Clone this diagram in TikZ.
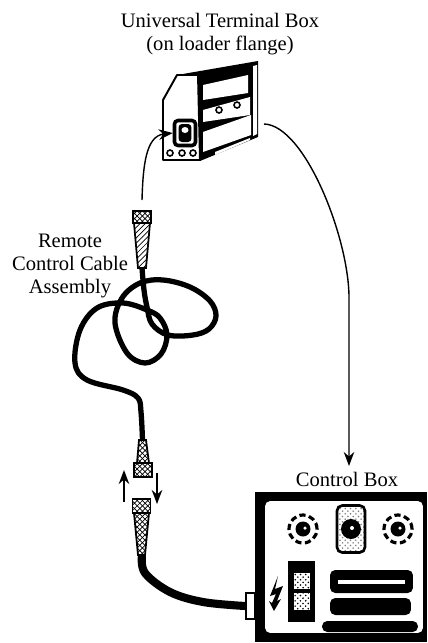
\documentclass[tikz,border=0pt]{standalone}
\usepackage{fontspec}
\setmainfont{Liberation Serif}
\usetikzlibrary{arrows.meta,patterns,shapes.geometric}
\begin{document}
\begin{tikzpicture}[
  x=0.02cm, y=-0.02cm,
  lbl/.style={font=\fontsize{11.7}{13}\selectfont, align=center, inner sep=0pt},
  tr/.style={-{Stealth[length=8pt,width=6pt]}, line width=0.8pt},
  cablethin/.style={line width=3pt, line join=round},
  cablethick/.style={line width=4.6pt, line join=round},
  collar/.style={rectangle, draw=black, line width=1pt, inner sep=0pt, pattern=crosshatch, minimum width=0.36cm, minimum height=0.26cm},
  taper/.style={draw=black, line width=1pt, pattern=crosshatch},
  socket/.style={rectangle, rounded corners=2pt, draw=black, line width=2pt, fill=white, inner sep=0pt},
  hole/.style={circle, draw=black, line width=0.9pt, fill=white, inner sep=0pt, minimum size=0.12cm},
  panel/.style={fill=white},
  bar/.style={rectangle, rounded corners=3pt, fill=black, inner sep=0pt},
  dial/.style={circle, fill=black, inner sep=0pt, minimum size=0.3cm},
  dialring/.style={circle, draw=black, line width=1.8pt, dash pattern=on 3.5pt off 2pt, inner sep=0pt, minimum size=0.56cm},
  dotbox/.style={rectangle, draw=black, line width=0.5pt, pattern=crosshatch dots, inner sep=0pt, minimum width=0.34cm, minimum height=0.34cm}
]
  \useasboundingbox (0,0) rectangle (427,643);

  % labels
  \node[lbl] (titleterm) at (220,34) {Universal Terminal Box\\(on loader flange)};
  \node[lbl] (titlecable) at (70,266) {Remote\\Control Cable\\Assembly};
  \node[lbl] (titlebox) at (347,479) {Control Box};

  % terminal box
  \draw[fill=white, line width=1.1pt, line join=round] (177,75) -- (163,100) -- (163,160) -- (200,160) -- (198,75) -- cycle;
  \fill[line join=round] (177,75) -- (258,61) -- (258,137) -- (200,161) -- (198,75) -- cycle;
  \fill[panel] (203,85) -- (248,75) -- (248,93) -- (203,100) -- cycle;
  \fill[panel] (203,110) -- (250,97) -- (250,115) -- (203,122) -- cycle;
  \fill[panel] (203,132) -- (251,115) -- (251,135) -- (203,152) -- cycle;
  \fill[panel] (253,66) -- (257,65) -- (257,134) -- (253,136) -- cycle;
  \fill[panel] (215,152) -- (250,138) -- (250,140) -- (215,155) -- cycle;
  \node[hole] (boltl) at (219,110) {};
  \node[hole] (boltr) at (237,105) {};
  \node[hole] (holea) at (170,153) {};
  \node[hole] (holeb) at (182,153) {};
  \node[hole] (holec) at (193,153) {};
  \node[socket, minimum width=0.42cm, minimum height=0.5cm] (socketterm) at (185,133) {};
  \node[rectangle, rounded corners=2pt, fill=black, inner sep=0pt, minimum width=0.26cm, minimum height=0.36cm] (socketcore) at (185,133) {};
  \node[ellipse, fill=white, inner sep=0pt, minimum width=0.14cm, minimum height=0.12cm] (socketpin) at (185,130) {};

  % control box
  \node[rectangle, fill=black, inner sep=0pt, minimum width=3.44cm, minimum height=3cm] (ctrlbox) at (341,567) {};
  \node[rectangle, rounded corners=3pt, fill=white, inner sep=0pt, minimum width=3.16cm, minimum height=2.64cm] (ctrlface) at (344,567) {};
  \node[dial] (dialleft) at (303,529) {};
  \node[dialring] (ringleft) at (303,529) {};
  \node[circle, fill=white, inner sep=0pt, minimum size=0.07cm] (pinleft) at (305,528) {};
  \node[dial] (dialright) at (398,529) {};
  \node[dialring] (ringright) at (398,529) {};
  \node[circle, fill=white, inner sep=0pt, minimum size=0.07cm] (pinright) at (400,528) {};
  \node[rectangle, rounded corners=3pt, draw=black, line width=1.5pt, pattern=crosshatch dots, pattern color=gray, inner sep=0pt, minimum width=0.56cm, minimum height=0.94cm] (dialpad) at (351,529) {};
  \node[circle, fill=black, inner sep=0pt, minimum size=0.4cm] (dialmid) at (351,529) {};
  \node[circle, fill=white, inner sep=0pt, minimum size=0.08cm] (dialpin) at (352,528) {};
  \node[rectangle, fill=black, inner sep=0pt, minimum width=0.54cm, minimum height=1.22cm] (switch) at (301.5,591.5) {};
  \node[rectangle, fill=white, inner sep=0pt, minimum width=0.34cm, minimum height=0.34cm] (switchbgtop) at (301.5,581) {};
  \node[rectangle, fill=white, inner sep=0pt, minimum width=0.34cm, minimum height=0.36cm] (switchbgbot) at (301.5,601) {};
  \node[dotbox] (switchtop) at (301.5,581) {};
  \node[dotbox, minimum height=0.36cm] (switchbot) at (301.5,601) {};
  \fill (278,576) -- (270,596) -- (276,594) -- (272,603) -- (269,601) -- (274,611) -- (281,599) -- (277,601) -- (283,586) -- (275,589) -- cycle;
  \node[bar, minimum width=1.66cm, minimum height=0.46cm] (barone) at (371.5,581.5) {};
  \node[rectangle, fill=white, inner sep=0pt, minimum width=1.34cm, minimum height=0.08cm] (barslit) at (371.5,582) {};
  \node[bar, minimum width=1.62cm, minimum height=0.34cm] (bartwo) at (370.5,606.5) {};
  \node[bar, minimum width=1.92cm, minimum height=0.22cm] (barthree) at (370,626.5) {};
  \node[rectangle, draw=black, line width=0.9pt, fill=white, inner sep=0pt, minimum width=0.18cm, minimum height=0.52cm] (boxplug) at (250.5,606) {};

  % connectors
  \draw[taper, pattern=north east lines] (134,223) -- (150,223) -- (146,268) -- (138,268) -- cycle;
  \node[collar, minimum height=0.24cm, pattern=crosshatch, line width=1.4pt] (plugtop) at (142,217) {};
  \draw[taper] (139,440) -- (146,440) -- (149,463) -- (137,463) -- cycle;
  \node[collar, minimum height=0.28cm] (plugupper) at (143,470) {};
  \node[collar, minimum height=0.28cm] (pluglower) at (141.5,506) {};
  \draw[taper] (134,513) -- (149,513) -- (145,555) -- (138,555) -- cycle;
  \coordinate (cablestart) at (142,268);
  \coordinate (cableend) at (142.5,440);
  \coordinate (cablelow) at (142,555);
  \coordinate (arrowstart) at (142,200);
  \coordinate (termout) at (264,124);
  \coordinate (upfrom) at (124,502);
  \coordinate (upto) at (124,470);
  \coordinate (downfrom) at (157,473);
  \coordinate (downto) at (157,504);

  % cable
  \draw[cablethin] plot[smooth, tension=0.6] coordinates {(cablestart) (144,290) (147,307) (152,324) (168,335) (193,335) (209,329) (216,316) (210,301) (190,287) (163,280) (140,283) (122,298) (115,323) (127,353) (145,363) (161,354) (167,335) (160,318) (147,310) (123,303) (97,308) (80,330) (75,363) (87,380) (123,390) (138,398) (141,412) (cableend)};
  \draw[cablethick] plot[smooth, tension=0.6] coordinates {(cablelow) (145,573) (170,592) (203,602) (boxplug.west)};

  % arrows
  \draw[tr] (arrowstart) .. controls (143,165) and (146,136) .. (socketterm.west);
  \draw[tr] (termout) .. controls (305,125) and (350,240) .. (349,300) -- (349,466);
  \draw[tr, line width=1pt] (upfrom) -- (upto);
  \draw[tr, line width=1pt] (downfrom) -- (downto);
\end{tikzpicture}
\end{document}
